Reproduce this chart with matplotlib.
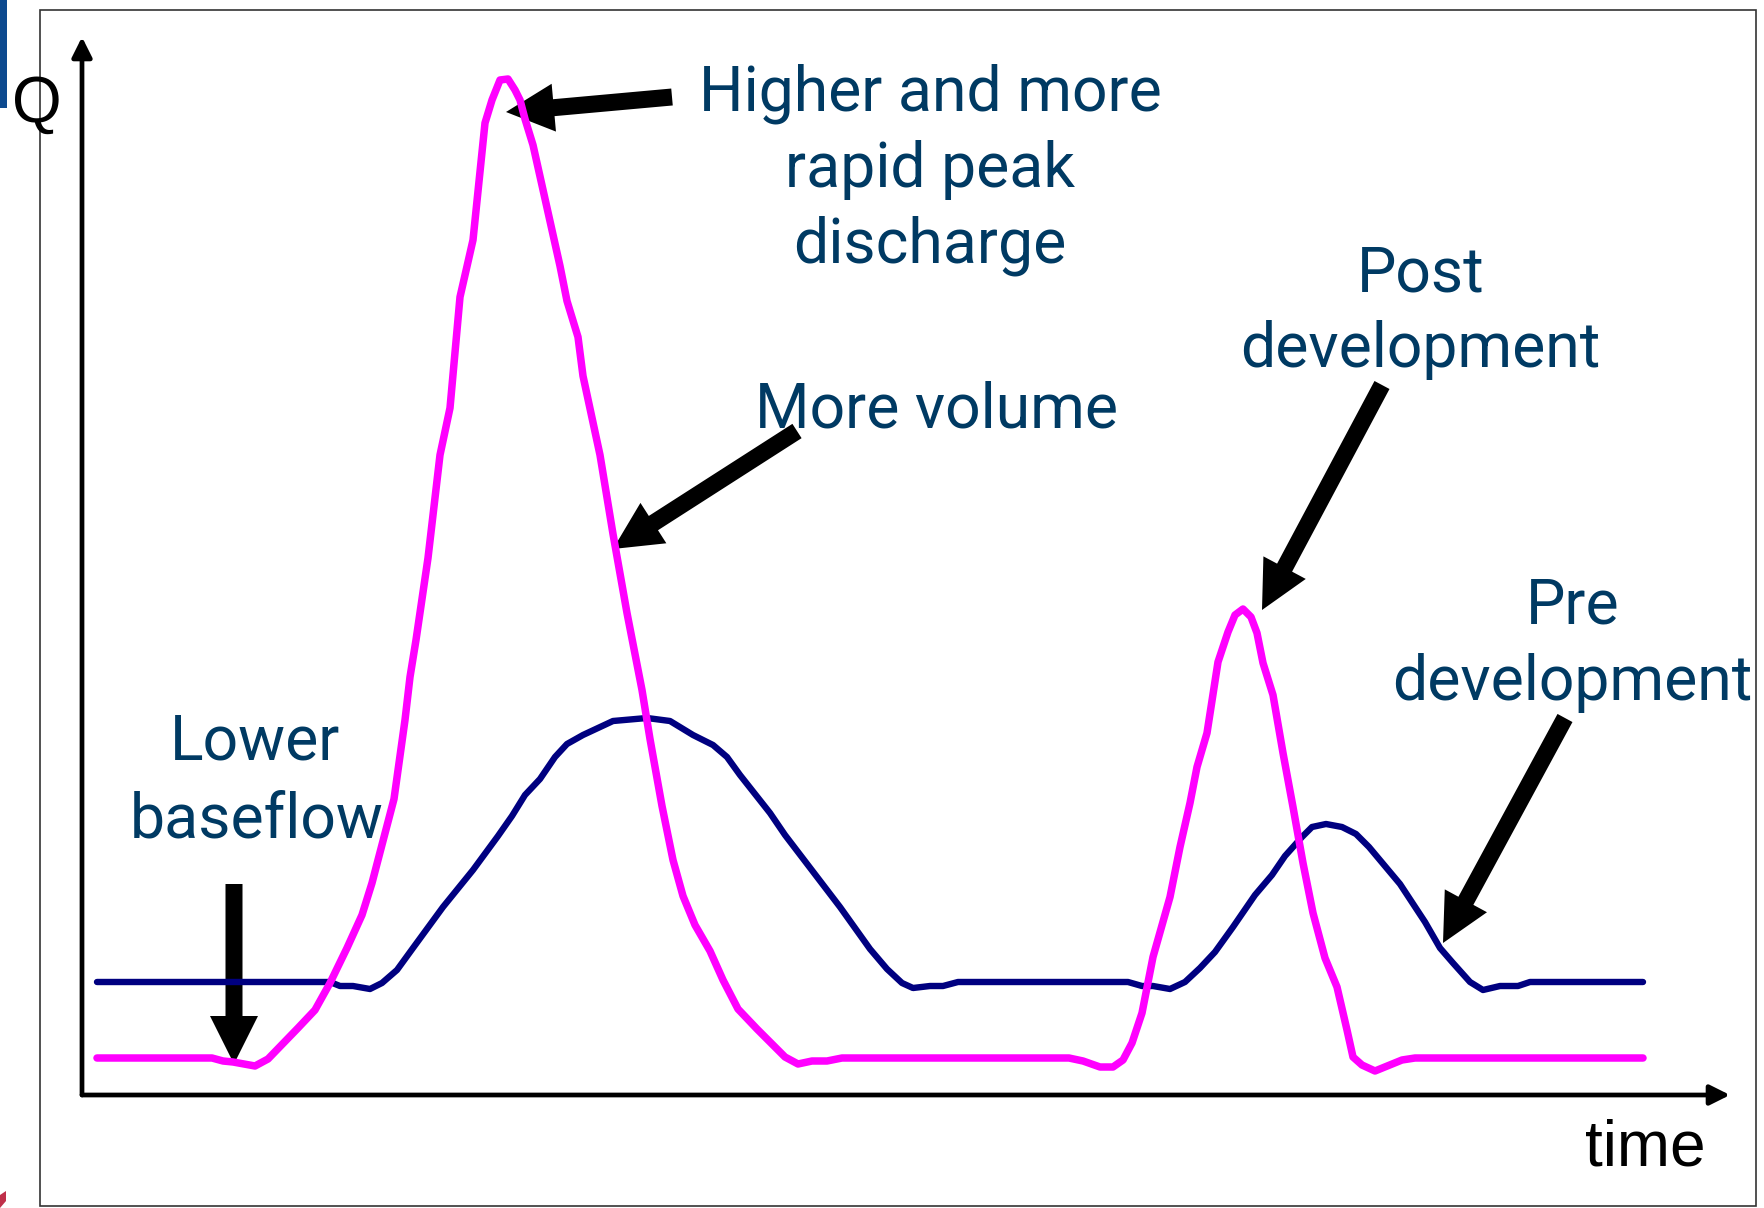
import matplotlib
matplotlib.use('Agg')
import matplotlib.pyplot as plt
from matplotlib.patches import Rectangle, FancyArrow, Polygon

# hydrograph values (time, Q in arbitrary units)
post_t = [1.5, 13.0, 14.1, 15.1, 17.3, 18.6, 21.6, 23.3, 24.8, 26.5, 28.0, 29.0, 29.6, 31.2, 32.3,
          32.8, 33.4, 34.6, 35.8, 36.8, 37.8, 39.1, 40.3, 41.0, 41.8, 42.6, 43.3, 43.8, 44.3, 45.1,
          47.8, 48.5, 49.6, 50.1, 51.8, 53.1, 54.5, 56.0, 56.8, 58.0, 59.1, 60.1, 61.3, 62.8, 64.1,
          65.6, 67.5, 70.3, 71.6, 73.0, 74.5, 76.0, 98.7, 100.1, 101.8, 103.1, 104.1, 105.0, 106.0,
          107.1, 108.8, 109.8, 110.8, 111.5, 112.5, 113.6, 114.6, 115.3, 116.1, 116.9, 117.5, 118.1,
          119.1, 120.1, 121.1, 122.1, 123.1, 124.3, 125.5, 126.5, 127.1, 128.0, 129.3, 132.0, 133.3,
          156.1]
post_q = [3.7, 3.7, 3.4, 3.3, 2.9, 3.6, 6.7, 8.5, 11.2, 14.7, 18.0, 21.2, 23.5, 29.6, 37.5,
          41.8, 45.5, 53.7, 64.0, 68.7, 79.8, 85.5, 97.2, 99.5, 101.5, 101.6, 100.5, 99.5, 97.6, 95.0,
          82.9, 79.4, 75.8, 71.9, 64.0, 56.1, 48.2, 40.5, 35.6, 28.9, 23.5, 19.9, 17.0, 14.4, 11.5,
          8.6, 6.6, 3.8, 3.1, 3.4, 3.4, 3.7, 3.7, 3.4, 2.8, 2.8, 3.5, 5.2, 8.2,
          13.8, 19.8, 24.8, 29.2, 32.8, 36.2, 43.3, 46.3, 48.0, 48.6, 47.8, 46.2, 43.2,
          40.0, 34.2, 28.8, 23.2, 18.2, 13.7, 10.8, 6.5, 3.8, 3.0, 2.4, 3.5, 3.7,
          3.7]

pre_t = [1.5, 24.8, 25.8, 27.1, 28.8, 30.0, 31.5, 33.1, 36.1, 39.1, 41.6, 43.0, 44.3, 45.8, 47.3,
         48.5, 50.1, 53.1, 56.5, 58.8, 61.1, 63.1, 64.5, 65.8, 68.8, 70.3, 75.8, 78.8, 80.5, 82.0,
         83.1, 84.8, 86.1, 87.6, 104.6, 106.0, 107.1, 108.8, 110.3, 111.8, 113.3, 115.1, 117.3,
         119.0, 120.3, 122.0, 123.0, 124.4, 126.0, 127.4, 128.7, 131.8, 134.3, 135.8, 137.1, 138.8,
         140.1, 141.8, 143.6, 144.8, 156.1]
pre_q = [11.3, 11.3, 10.9, 10.9, 10.6, 11.2, 12.5, 14.7, 18.8, 22.5, 25.9, 27.9, 30.0, 31.6, 33.8,
         35.1, 36.0, 37.4, 37.7, 37.4, 36.0, 35.0, 33.8, 32.0, 28.2, 26.0, 18.8, 14.6, 12.6, 11.2,
         10.7, 10.9, 10.9, 11.3, 11.3, 10.9, 10.9, 10.6, 11.3, 12.7, 14.3, 16.8, 20.0,
         22.0, 23.9, 25.8, 26.8, 27.1, 26.8, 26.1, 24.8, 21.1, 17.3, 14.7, 13.2, 11.3,
         10.5, 10.9, 10.9, 11.3, 11.3]

# callout arrows: (tail t, tail q, tip t, tip q)
arrow_tails = [(59.0, 99.8), (71.5, 66.4), (130.0, 71.0), (148.3, 37.7), (15.2, 21.1)]
arrow_tips = [(42.4, 98.3), (53.1, 54.6), (118.0, 48.5), (136.1, 15.2), (15.2, 3.1)]

labels = ['Higher and more', 'rapid peak', 'discharge', 'More volume',
          'Post', 'development', 'Pre', 'development', 'Lower', 'baseflow']
label_pos = [(84.8, 98.5), (84.8, 90.8), (84.8, 83.2), (85.4, 66.7),
             (133.9, 80.4), (133.8, 72.8), (149.1, 47.2), (149.0, 39.5),
             (17.3, 33.5), (17.5, 25.8)]

text_col = '#003a63'

fig = plt.figure(figsize=(17.64, 12.08), dpi=100)
ax = fig.add_axes([0, 0, 1, 1])
ax.set_xlim(-8.2, 168.2)
ax.set_ylim(-11.3, 109.5)
ax.axis('off')

# slide frame bits
ax.add_patch(Rectangle((-4.2, -11.1), 171.6, 119.6, fill=False, ec='#333333', lw=1.2))
ax.add_patch(Rectangle((-8.2, 98.7), 0.7, 10.8, color='#0d4a8f', lw=0))
ax.add_patch(Polygon([(-8.2, -11.3), (-8.2, -10.0), (-7.6, -9.6), (-7.6, -10.6)],
                     closed=True, color='#c0304a', lw=0))

# axes arrows
ax.annotate('', xy=(0, 105.8), xytext=(0, 0),
            arrowprops=dict(arrowstyle='-|>,head_length=0.6,head_width=0.3',
                            lw=3.4, color='black', shrinkA=0, shrinkB=0, mutation_scale=20))
ax.annotate('', xy=(164.8, 0), xytext=(0, 0),
            arrowprops=dict(arrowstyle='-|>,head_length=0.6,head_width=0.3',
                            lw=3.4, color='black', shrinkA=0, shrinkB=0, mutation_scale=20))

ax.plot(pre_t, pre_q, color='#000080', lw=4.6, solid_capstyle='round', solid_joinstyle='round')
ax.plot(post_t, post_q, color='#ff00ff', lw=5.4, solid_capstyle='round', solid_joinstyle='round')

for (t0, q0), (t1, q1) in zip(arrow_tails, arrow_tips):
    ax.add_patch(FancyArrow(t0, q0, t1 - t0, q1 - q0, width=1.7, head_width=4.8,
                            head_length=4.8, length_includes_head=True,
                            color='black', lw=0))

for s, (x, y) in zip(labels, label_pos):
    ax.text(x, y, s, ha='center', va='baseline', fontsize=45,
            family='Roboto', color=text_col)

ax.text(-7.0, 97.3, 'Q', ha='left', va='baseline', fontsize=46, family='Liberation Sans')
ax.text(150.3, -7.1, 'time', ha='left', va='baseline', fontsize=46, family='Liberation Sans')

plt.savefig('out.png', dpi=100)
